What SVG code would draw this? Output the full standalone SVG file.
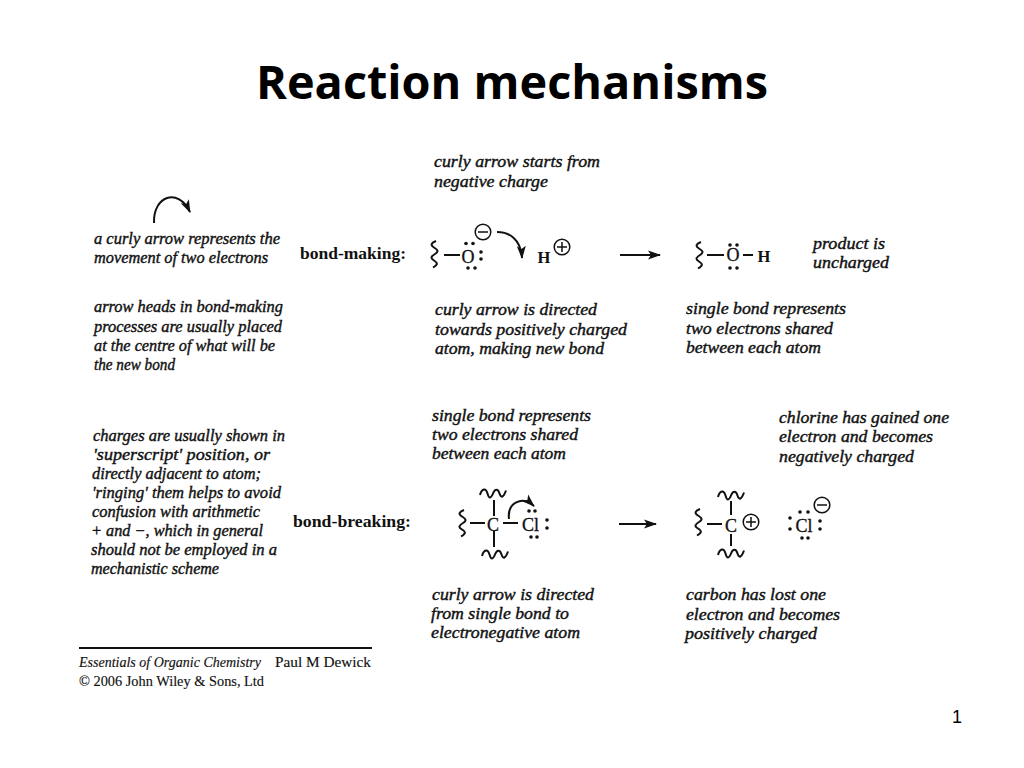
<svg xmlns="http://www.w3.org/2000/svg" xmlns:xlink="http://www.w3.org/1999/xlink" width="1024" height="768" viewBox="0 0 1024 768">
<style>
text{fill:#111}
.t{font-family:"Liberation Serif",serif;font-style:italic;font-size:16.500px;font-weight:500;stroke:#111;stroke-width:.4}
.b{font-family:"Liberation Serif",serif;font-weight:700;font-size:16.500px}
.a{font-family:"Liberation Serif",serif;font-size:18px;stroke:#111;stroke-width:.3}
.h{font-family:"Liberation Serif",serif;font-weight:700;font-size:16.500px}
.f{font-family:"Liberation Serif",serif;font-size:15px;stroke:#111;stroke-width:.15}
.l{fill:none;stroke:#111;stroke-width:2}
.c{fill:none;stroke:#111;stroke-width:1.500}
.d{fill:#111}
</style>
<defs>
<path id="sq" class="l" d="M1 0c-5 2-6 4-2 6.500s5 4 1 6.500s-5 4-1 6.500s4 4-1 7"/>
<path id="wv" class="l" d="M0 5c2-7 6-7 7.500-1.500s3.500 5 5.500 0s5-5 6.500 0s4 4 6.500-3"/>
<g id="minus"><circle class="c" r="7.800"/><path class="c" d="M-5 0h10"/></g>
<g id="plus"><circle class="c" r="7.800"/><path class="c" d="M-5 0h10M0-5v10"/></g>
<marker id="ah" markerWidth="14" markerHeight="10" refX="12" refY="5" orient="auto" markerUnits="userSpaceOnUse"><path class="d" d="M0 0.500L13 5L0 9.500L3 5Z"/></marker>
</defs>
<rect width="1024" height="768" fill="#fff"/>
<text id="title" x="256" y="99" font-family="'Open Sans',sans-serif" font-weight="700" font-size="47" textLength="512" lengthAdjust="spacingAndGlyphs" style="fill:#000">Reaction mechanisms</text>
<g id="notes">
<text class="t" x="434" y="167" textLength="166" lengthAdjust="spacingAndGlyphs">curly arrow starts from</text>
<text class="t" x="434" y="187" textLength="114" lengthAdjust="spacingAndGlyphs">negative charge</text>
<text class="t" x="94" y="244" textLength="186" lengthAdjust="spacingAndGlyphs">a curly arrow represents the</text>
<text class="t" x="94" y="263" textLength="174" lengthAdjust="spacingAndGlyphs">movement of two electrons</text>
<text class="t" x="813" y="249" textLength="72" lengthAdjust="spacingAndGlyphs">product is</text>
<text class="t" x="813" y="268" textLength="76" lengthAdjust="spacingAndGlyphs">uncharged</text>
<text class="t" x="94" y="312" textLength="189" lengthAdjust="spacingAndGlyphs">arrow heads in bond-making</text>
<text class="t" x="94" y="332" textLength="188" lengthAdjust="spacingAndGlyphs">processes are usually placed</text>
<text class="t" x="94" y="351" textLength="181" lengthAdjust="spacingAndGlyphs">at the centre of what will be</text>
<text class="t" x="94" y="370" textLength="81" lengthAdjust="spacingAndGlyphs">the new bond</text>
<text class="t" x="435" y="315" textLength="162" lengthAdjust="spacingAndGlyphs">curly arrow is directed</text>
<text class="t" x="435" y="335" textLength="192" lengthAdjust="spacingAndGlyphs">towards positively charged</text>
<text class="t" x="435" y="354" textLength="169" lengthAdjust="spacingAndGlyphs">atom, making new bond</text>
<text class="t" x="686" y="314" textLength="160" lengthAdjust="spacingAndGlyphs">single bond represents</text>
<text class="t" x="686" y="334" textLength="147" lengthAdjust="spacingAndGlyphs">two electrons shared</text>
<text class="t" x="686" y="353" textLength="135" lengthAdjust="spacingAndGlyphs">between each atom</text>
<text class="t" x="432" y="421" textLength="159" lengthAdjust="spacingAndGlyphs">single bond represents</text>
<text class="t" x="432" y="440" textLength="146" lengthAdjust="spacingAndGlyphs">two electrons shared</text>
<text class="t" x="432" y="459" textLength="134" lengthAdjust="spacingAndGlyphs">between each atom</text>
<text class="t" x="779" y="423" textLength="170" lengthAdjust="spacingAndGlyphs">chlorine has gained one</text>
<text class="t" x="779" y="442" textLength="154" lengthAdjust="spacingAndGlyphs">electron and becomes</text>
<text class="t" x="779" y="462" textLength="135" lengthAdjust="spacingAndGlyphs">negatively charged</text>
<text class="t" x="93" y="441" textLength="192" lengthAdjust="spacingAndGlyphs">charges are usually shown in</text>
<text class="t" x="93" y="460" textLength="177" lengthAdjust="spacingAndGlyphs">'superscript' position, or</text>
<text class="t" x="92" y="479" textLength="169" lengthAdjust="spacingAndGlyphs">directly adjacent to atom;</text>
<text class="t" x="92" y="498" textLength="189" lengthAdjust="spacingAndGlyphs">'ringing' them helps to avoid</text>
<text class="t" x="92" y="517" textLength="168" lengthAdjust="spacingAndGlyphs">confusion with arithmetic</text>
<text class="t" x="91" y="536" textLength="172" lengthAdjust="spacingAndGlyphs">+ and −, which in general</text>
<text class="t" x="91" y="555" textLength="186" lengthAdjust="spacingAndGlyphs">should not be employed in a</text>
<text class="t" x="91" y="574" textLength="128" lengthAdjust="spacingAndGlyphs">mechanistic scheme</text>
<text class="t" x="432" y="600" textLength="162" lengthAdjust="spacingAndGlyphs">curly arrow is directed</text>
<text class="t" x="431" y="619" textLength="138" lengthAdjust="spacingAndGlyphs">from single bond to</text>
<text class="t" x="431" y="638" textLength="149" lengthAdjust="spacingAndGlyphs">electronegative atom</text>
<text class="t" x="686" y="600" textLength="140" lengthAdjust="spacingAndGlyphs">carbon has lost one</text>
<text class="t" x="686" y="620" textLength="154" lengthAdjust="spacingAndGlyphs">electron and becomes</text>
<text class="t" x="685" y="639" textLength="132" lengthAdjust="spacingAndGlyphs">positively charged</text>
</g>
<text id="label-making" class="b" x="300" y="259" textLength="106" lengthAdjust="spacingAndGlyphs">bond-making:</text>
<text id="label-breaking" class="b" x="293" y="527" textLength="118" lengthAdjust="spacingAndGlyphs">bond-breaking:</text>
<g id="legend-arrow"><path class="l" d="M154 223C153 196 178 187 190 212" marker-end="url(#ah)"/></g>
<g id="oxygen-anion">
<use xlink:href="#sq" href="#sq" x="435" y="241"/>
<path class="l" d="M444 255H460"/>
<text class="a" x="468" y="263" text-anchor="middle">O</text>
<circle class="d" cx="466" cy="243.500" r="1.800"/><circle class="d" cx="473" cy="243.500" r="1.800"/>
<circle class="d" cx="481" cy="252" r="1.800"/><circle class="d" cx="481" cy="259" r="1.800"/>
<circle class="d" cx="468" cy="268" r="1.800"/><circle class="d" cx="475" cy="268" r="1.800"/>
<use xlink:href="#minus" href="#minus" x="483" y="232"/>
</g>
<g id="proton">
<text class="h" x="544" y="263" text-anchor="middle">H</text>
<use xlink:href="#plus" href="#plus" x="562" y="247"/>
</g>
<g id="hydroxyl">
<use xlink:href="#sq" href="#sq" x="700" y="242"/>
<path class="l" d="M707 255H724M743 255H753"/>
<text class="a" x="733" y="261" text-anchor="middle">O</text>
<circle class="d" cx="730" cy="245" r="1.800"/><circle class="d" cx="737" cy="245" r="1.800"/>
<circle class="d" cx="730" cy="268" r="1.800"/><circle class="d" cx="737" cy="268" r="1.800"/>
<text class="h" x="764" y="262" text-anchor="middle">H</text>
</g>
<g id="alkyl-chloride">
<use xlink:href="#sq" href="#sq" x="463" y="510"/>
<use xlink:href="#wv" href="#wv" x="480" y="490"/>
<use xlink:href="#wv" href="#wv" x="482" y="551"/>
<path class="l" d="M470 523H485M494 500V516M494 531V547M503 523H518"/>
<text class="a" x="493" y="531" text-anchor="middle">C</text>
<text class="a" x="530.500" y="531" text-anchor="middle">Cl</text>
<circle class="d" cx="529" cy="511" r="1.800"/><circle class="d" cx="535" cy="511" r="1.800"/>
<circle class="d" cx="547" cy="520" r="1.800"/><circle class="d" cx="547" cy="528" r="1.800"/>
<circle class="d" cx="531" cy="537" r="1.800"/><circle class="d" cx="537" cy="537" r="1.800"/>
</g>
<g id="carbocation">
<use xlink:href="#sq" href="#sq" x="699" y="509"/>
<use xlink:href="#wv" href="#wv" x="718" y="492"/>
<use xlink:href="#wv" href="#wv" x="718" y="550"/>
<path class="l" d="M707 524H722M731 501V515M731 534V546"/>
<text class="a" x="731" y="532" text-anchor="middle">C</text>
<use xlink:href="#plus" href="#plus" x="751" y="522"/>
</g>
<g id="chloride">
<text class="a" x="804" y="532" text-anchor="middle">Cl</text>
<circle class="d" cx="790" cy="518" r="1.800"/><circle class="d" cx="790" cy="529" r="1.800"/>
<circle class="d" cx="820" cy="521" r="1.800"/><circle class="d" cx="820" cy="529" r="1.800"/>
<circle class="d" cx="800" cy="512" r="1.800"/><circle class="d" cx="808" cy="512" r="1.800"/>
<circle class="d" cx="802" cy="538" r="1.800"/><circle class="d" cx="808" cy="538" r="1.800"/>
<use xlink:href="#minus" href="#minus" x="822" y="505"/>
</g>
<g id="connectors">
<path class="l" d="M497 232C510 232 521 240 522 258" marker-end="url(#ah)"/>
<path class="l" d="M620 255H660" marker-end="url(#ah)"/>
<path class="l" d="M509 519C507 503 522 495 534 506" marker-end="url(#ah)"/>
<path class="l" d="M619 524H656" marker-end="url(#ah)"/>
</g>
<g id="credit">
<path d="M79 648H372" stroke="#111" stroke-width="2"/>
<text class="f" x="79" y="667" font-style="italic" textLength="182" lengthAdjust="spacingAndGlyphs">Essentials of Organic Chemistry</text>
<text class="f" x="275" y="667" textLength="96" lengthAdjust="spacingAndGlyphs">Paul M Dewick</text>
<text class="f" x="79" y="686" textLength="185" lengthAdjust="spacingAndGlyphs">© 2006 John Wiley &amp; Sons, Ltd</text>
</g>
<text id="page" x="952" y="723" font-family="'Liberation Sans',sans-serif" font-size="18" style="fill:#000">1</text>
</svg>
